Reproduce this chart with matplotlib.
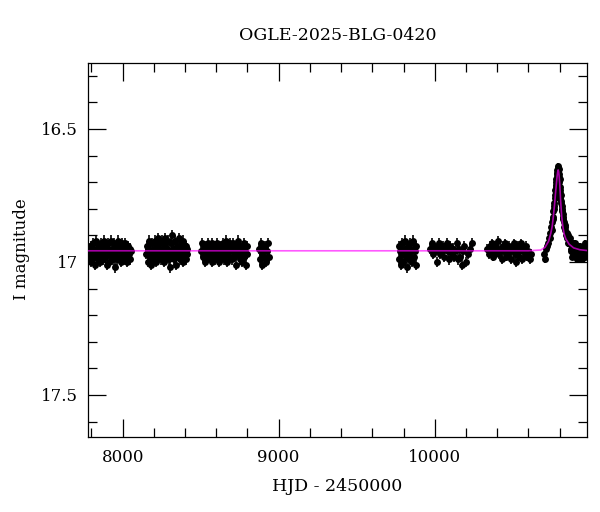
import matplotlib
matplotlib.use("Agg")
import matplotlib.pyplot as plt
from matplotlib.ticker import MultipleLocator, FormatStrFormatter

# ---------------- data ----------------
s1_t = [7782, 7786, 7791, 7795, 7800, 7805, 7809, 7814, 7818, 7823,
        7828, 7832, 7837, 7841, 7846, 7851, 7855, 7860, 7864, 7869,
        7874, 7878, 7883, 7887, 7892, 7897, 7901, 7906, 7910, 7915,
        7920, 7924, 7929, 7933, 7938, 7943, 7947, 7952, 7956, 7961,
        7966, 7970, 7975, 7979, 7984, 7989, 7993, 7998, 8002, 8007,
        8012, 8016, 8021, 8025, 8030, 8035, 8039, 8044, 8048, 8053]
s1_m = [16.95, 16.99, 16.97, 16.94, 17.00, 16.96, 16.93, 16.98, 16.96, 17.01,
        16.95, 16.92, 16.97, 16.99, 16.94, 16.96, 17.00, 16.93, 16.97, 16.95,
        16.99, 16.92, 16.96, 16.98, 16.94, 17.01, 16.95, 16.93, 16.97, 17.00,
        16.96, 16.92, 16.98, 16.95, 16.99, 16.93, 16.97, 17.02, 16.94, 16.96,
        16.99, 16.92, 16.95, 16.98, 16.94, 17.00, 16.96, 16.93, 16.97, 16.99,
        16.95, 16.93, 16.98, 16.96, 17.00, 16.94, 16.97, 16.95, 16.99, 16.96]

s2_t = [8152, 8156, 8161, 8165, 8170, 8174, 8179, 8183, 8188, 8192,
        8197, 8201, 8206, 8210, 8215, 8219, 8224, 8228, 8233, 8237,
        8242, 8246, 8251, 8255, 8260, 8264, 8269, 8273, 8278, 8282,
        8287, 8291, 8296, 8300, 8305, 8309, 8314, 8318, 8323, 8327,
        8332, 8336, 8341, 8345, 8350, 8354, 8359, 8363, 8368, 8372,
        8377, 8381, 8386, 8390, 8395, 8399, 8404, 8408, 8412, 8415]
s2_m = [16.97, 16.94, 17.00, 16.95, 16.92, 16.98, 16.96, 17.01, 16.93, 16.97,
        16.99, 16.95, 16.92, 16.97, 17.00, 16.94, 16.96, 16.91, 16.98, 16.95,
        16.93, 16.99, 16.96, 16.92, 16.97, 17.00, 16.94, 16.91, 16.98, 16.96,
        16.95, 16.92, 16.99, 16.96, 17.02, 16.93, 16.97, 16.90, 16.95, 16.99,
        16.96, 16.92, 16.98, 17.01, 16.94, 16.97, 16.91, 16.96, 16.99, 16.93,
        16.97, 16.95, 17.00, 16.92, 16.96, 16.98, 16.94, 16.99, 16.95, 16.97]

s3_t = [8505, 8510, 8515, 8520, 8525, 8530, 8535, 8540, 8545, 8550,
        8555, 8560, 8565, 8570, 8575, 8580, 8585, 8590, 8595, 8600,
        8605, 8610, 8615, 8620, 8625, 8630, 8635, 8640, 8645, 8650,
        8655, 8660, 8665, 8670, 8675, 8680, 8685, 8690, 8695, 8700,
        8705, 8710, 8715, 8720, 8725, 8730, 8735, 8740, 8745, 8750,
        8755, 8760, 8765, 8770, 8775, 8780, 8785, 8790, 8794, 8797]
s3_m = [16.96, 16.93, 16.98, 16.95, 17.00, 16.94, 16.97, 16.99, 16.93, 16.96,
        16.98, 16.94, 16.96, 17.00, 16.93, 16.97, 16.95, 16.99, 16.94, 16.96,
        16.93, 16.98, 16.95, 17.00, 16.96, 16.94, 16.98, 16.93, 16.97, 16.99,
        16.95, 16.92, 16.97, 17.00, 16.94, 16.96, 16.98, 16.93, 16.95, 16.99,
        16.96, 16.93, 16.98, 16.95, 17.01, 16.94, 16.97, 16.92, 16.96, 16.99,
        16.94, 16.97, 17.00, 16.95, 16.93, 16.98, 16.96, 17.01, 16.94, 16.97]

s4_t = [8872, 8878, 8884, 8890, 8896, 8902, 8908, 8914, 8920, 8926, 8932, 8938]
s4_m = [16.95, 16.99, 16.93, 16.97, 17.01, 16.95, 16.98, 16.94, 17.00, 16.96, 16.93, 16.98]

s5_t = [9768, 9773, 9778, 9783, 9788, 9793, 9798, 9803, 9808, 9813, 9818, 9823,
        9828, 9833, 9838, 9843, 9848, 9853, 9858, 9863, 9868, 9873, 9878, 9883]
s5_m = [16.94, 16.99, 16.96, 17.01, 16.93, 16.97, 17.00, 16.95, 16.92, 16.98, 16.96, 17.02,
        16.94, 16.97, 16.99, 16.93, 16.96, 17.00, 16.95, 16.92, 16.98, 16.96, 17.01, 16.94]

s6_t = [9972, 9980, 9988, 9996, 10004, 10012, 10020, 10028, 10036, 10044,
        10052, 10060, 10068, 10076, 10084, 10092, 10100, 10108, 10116, 10124,
        10132, 10140, 10148, 10156, 10164, 10172, 10180, 10188, 10200, 10215,
        10225, 10240]
s6_m = [16.95, 16.93, 16.97, 16.94, 16.96, 17.00, 16.95, 16.93, 16.97, 16.96,
        16.94, 16.98, 16.95, 16.93, 16.96, 16.99, 16.94, 16.97, 16.95, 16.98,
        16.96, 16.93, 16.99, 16.95, 16.98, 17.01, 16.96, 16.94, 17.00, 16.97,
        16.95, 16.93]

s7_t = [10338, 10345, 10352, 10359, 10366, 10373, 10380, 10387, 10394, 10401,
        10408, 10415, 10422, 10429, 10436, 10443, 10450, 10457, 10464, 10471,
        10478, 10485, 10492, 10499, 10506, 10513, 10520, 10527, 10534, 10541,
        10548, 10555, 10562, 10569, 10576, 10583, 10590, 10600, 10610, 10620]
s7_m = [16.95, 16.97, 16.94, 16.96, 16.93, 16.98, 16.95, 16.97, 16.94, 16.96,
        16.92, 16.97, 16.95, 16.99, 16.94, 16.96, 16.93, 16.98, 16.95, 16.97,
        16.94, 16.96, 16.99, 16.95, 16.93, 16.97, 17.00, 16.95, 16.94, 16.98,
        16.96, 16.93, 16.99, 16.95, 16.97, 16.94, 16.98, 16.96, 16.99, 16.97]

ev_t = [10698, 10705, 10712, 10720, 10728, 10735, 10742, 10748, 10753, 10757,
        10761, 10765, 10769, 10773, 10776, 10779, 10782, 10785, 10788, 10791,
        10794, 10797, 10800, 10803, 10806, 10810, 10814, 10818, 10822, 10827,
        10832, 10838, 10845, 10852, 10860, 10868, 10876, 10884, 10892, 10900,
        10908, 10916, 10924, 10932, 10940, 10948, 10956, 10964, 10971, 10976,
        10740, 10750, 10758, 10763, 10767, 10771, 10775, 10778, 10781, 10784,
        10787, 10790, 10793, 10796, 10799, 10802, 10805, 10808, 10812, 10816,
        10820, 10825, 10830, 10836, 10842, 10850, 10856, 10864, 10872, 10880,
        10888, 10896, 10904, 10912, 10920, 10928, 10936, 10944, 10952, 10960,
        10968]
ev_m = [16.97, 16.99, 16.95, 16.94, 16.93, 16.91, 16.89, 16.87, 16.85, 16.83,
        16.81, 16.78, 16.76, 16.73, 16.71, 16.69, 16.67, 16.655, 16.645, 16.64,
        16.65, 16.67, 16.69, 16.72, 16.74, 16.77, 16.79, 16.81, 16.83, 16.85,
        16.86, 16.88, 16.89, 16.90, 16.92, 16.93, 16.95, 16.93, 16.97, 16.95,
        16.98, 16.94, 16.96, 16.99, 16.95, 16.97, 16.94, 16.98, 16.96, 16.95,
        16.91, 16.88, 16.84, 16.80, 16.79, 16.75, 16.72, 16.70, 16.68, 16.665,
        16.65, 16.655, 16.66, 16.68, 16.70, 16.73, 16.76, 16.75, 16.78, 16.80,
        16.82, 16.84, 16.87, 16.87, 16.90, 16.91, 16.93, 16.91, 16.96, 16.98,
        16.95, 16.93, 16.96, 16.99, 16.97, 16.94, 16.97, 16.99, 16.96, 16.93,
        16.97]

season_err = [0.02, 0.02, 0.02, 0.02, 0.02, 0.02, 0.018, 0.012]

model_t = [7778, 10600, 10680, 10707, 10730, 10744, 10753, 10760, 10768, 10776,
           10784, 10788, 10791, 10794, 10797, 10801, 10807, 10814, 10820, 10829,
           10840, 10861, 10890, 10930, 10976]
model_m = [16.958, 16.958, 16.955, 16.945, 16.922, 16.892, 16.866, 16.83, 16.785, 16.73,
           16.68, 16.662, 16.654, 16.66, 16.675, 16.704, 16.77, 16.83, 16.862, 16.894,
           16.913, 16.933, 16.947, 16.954, 16.957]

title = "OGLE-2025-BLG-0420"
xlabel = "HJD - 2450000"
ylabel = "I magnitude"

# ---------------- figure ----------------
plt.rcParams['font.family'] = ['DejaVu Serif']
fig = plt.figure(figsize=(6.0, 5.12), dpi=100)
ax = fig.add_axes([88/600, 1-436.5/512, (587-88)/600, (436.5-62.7)/512])

seasons = [(s1_t, s1_m), (s2_t, s2_m), (s3_t, s3_m), (s4_t, s4_m),
           (s5_t, s5_m), (s6_t, s6_m), (s7_t, s7_m), (ev_t, ev_m)]
for (t, m), e in zip(seasons, season_err):
    ax.errorbar(t, m, yerr=e, fmt='o', color='black', ms=5.0, mew=0,
                elinewidth=1.2, capsize=3, capthick=1.1, zorder=2)

ax.plot(model_t, model_m, color='#ff00ff', lw=1.2, alpha=0.65, zorder=3)

ax.set_xlim(7778, 10976)
ax.set_ylim(17.656, 16.251)

ax.xaxis.set_major_locator(MultipleLocator(1000))
ax.xaxis.set_minor_locator(MultipleLocator(200))
ax.yaxis.set_major_locator(MultipleLocator(0.5))
ax.yaxis.set_minor_locator(MultipleLocator(0.1))
ax.yaxis.set_major_formatter(FormatStrFormatter('%g'))

ax.tick_params(which='both', direction='in', top=True, right=True, width=0.9,
               labelsize=12, colors='black')
ax.tick_params(which='major', length=13)
ax.tick_params(which='minor', length=6.5)
ax.tick_params(axis='x', which='major', pad=9)
ax.tick_params(axis='y', which='major', pad=7)
for sp in ax.spines.values():
    sp.set_linewidth(0.9)

ax.set_xlabel(xlabel, fontsize=12.5)
ax.xaxis.set_label_coords(0.5, -(478-436.5)/373.8)
ax.set_ylabel(ylabel, fontsize=12)
ax.yaxis.set_label_coords((30-88)/499, 0.5)
ax.set_title(title, fontsize=12.5, pad=16)

fig.savefig("out.png", dpi=100)
